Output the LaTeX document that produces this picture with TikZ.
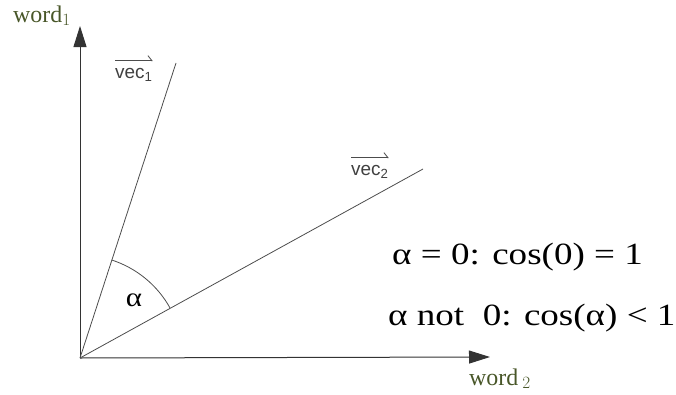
\documentclass[tikz,border=0pt]{standalone}
\usepackage{fontspec}
\setmainfont{Liberation Serif}
\setsansfont{Liberation Sans}
\usetikzlibrary{arrows.meta}
\definecolor{wordgreen}{RGB}{72,86,40}

\begin{document}
\begin{tikzpicture}[x=1bp,y=1bp,
  axis/.style={draw=black!80, line width=1bp, -{Triangle[length=21bp, width=13bp]}},
  vecline/.style={draw=black!70, line width=0.8bp},
  wordlabel/.style={text=wordgreen, font=\fontsize{24}{26}\selectfont, inner sep=0pt, anchor=base west},
  veclabel/.style={text=black!75, font=\sffamily\fontsize{19}{21}\selectfont, inner sep=0pt, anchor=base west},
  harp/.style={draw=black!70, line width=0.8bp, -{Straight Barb[left, length=4bp, width=10bp]}},
  formula/.style={font=\fontsize{31}{34}\selectfont, inner sep=0pt, anchor=base west, xscale=1.2, transform shape}]
\useasboundingbox (0,0) rectangle (676,394);
% axes
\coordinate (O) at (80,36);
\coordinate (ytip) at (80,368);
\coordinate (xtip) at (490,37);
\draw[axis] (O) -- (ytip);
\draw[axis] (O) -- (xtip);
\node[wordlabel] (word1) at (13,372) {word$_{1}$};
\node[wordlabel] (word2) at (469,9) {word\,$_{2}$};
% vectors
\coordinate (v1) at (176,331);
\coordinate (v2) at (423,225);
\draw[vecline] (O) -- (v1);
\draw[vecline] (O) -- (v2);
\node[veclabel] (vec1) at (115,316) {vec\textsubscript{1}};
\node[veclabel] (vec2) at (351,219) {vec\textsubscript{2}};
\draw[harp] ([yshift=7bp]vec1.north west) -- ([yshift=7bp]vec1.north east);
\draw[harp] ([yshift=7bp]vec2.north west) -- ([yshift=7bp]vec2.north east);
% angle
\draw[vecline] (O) ++(29:103) arc[start angle=29, end angle=72, radius=103];
\node[font=\fontsize{27}{30}\selectfont, xscale=1.15, transform shape] (alpha) at (134,94) {α};
% formulas
\node[formula] (eq1) at (392,130) {α = 0: cos(0) = 1};
\node[formula] (eq2) at (388,69) {α not \ 0: cos(α) < 1};
\end{tikzpicture}
\end{document}
